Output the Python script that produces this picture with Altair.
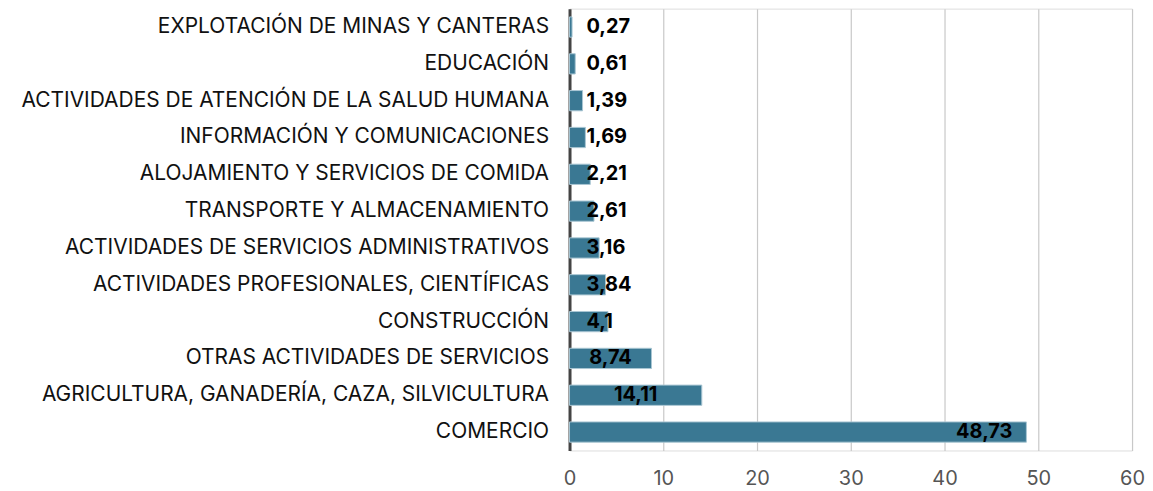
import altair as alt
import pandas as pd

sectores = [
    "EXPLOTACIÓN DE MINAS Y CANTERAS",
    "EDUCACIÓN",
    "ACTIVIDADES DE ATENCIÓN DE LA SALUD HUMANA",
    "INFORMACIÓN Y COMUNICACIONES",
    "ALOJAMIENTO Y SERVICIOS DE COMIDA",
    "TRANSPORTE Y ALMACENAMIENTO",
    "ACTIVIDADES DE SERVICIOS ADMINISTRATIVOS",
    "ACTIVIDADES PROFESIONALES, CIENTÍFICAS",
    "CONSTRUCCIÓN",
    "OTRAS ACTIVIDADES DE SERVICIOS",
    "AGRICULTURA, GANADERÍA, CAZA, SILVICULTURA",
    "COMERCIO",
]
valores = [0.27, 0.61, 1.39, 1.69, 2.21, 2.61, 3.16, 3.84, 4.1, 8.74, 14.11, 48.73]
etiquetas = ["0,27", "0,61", "1,39", "1,69", "2,21", "2,61", "3,16", "3,84", "4,1", "8,74", "14,11", "48,73"]

df = pd.DataFrame({"sector": sectores, "valor": valores, "etiqueta": etiquetas})

FONT = "Inter"
y_enc = alt.Y("sector:N", sort=sectores, title=None,
              scale=alt.Scale(paddingInner=0.45, paddingOuter=0.225),
              axis=alt.Axis(labelFontSize=21, labelColor="#111", labelFont=FONT,
                            labelPadding=21, ticks=False, domain=True,
                            domainColor="#444", domainWidth=3, labelLimit=700))
x_enc = alt.X("valor:Q", title=None,
              scale=alt.Scale(domain=[0, 60], nice=False),
              axis=alt.Axis(values=[0, 10, 20, 30, 40, 50, 60], labelFontSize=20,
                            labelColor="#555", labelFont=FONT, labelPadding=18,
                            labelFlush=False,
                            ticks=False, domain=False, grid=True,
                            gridColor="#c8c8c8", gridWidth=1.2))

base = alt.Chart(df)

bars = base.mark_bar(color="#3a7893", stroke="#a9c6d3", strokeWidth=1).encode(
    x=x_enc, y=y_enc)

txt_style = dict(fontSize=20, fontWeight="bold", font=FONT, color="#000", baseline="middle")

small = base.transform_filter("datum.valor < 5").mark_text(align="left", dx=17, **txt_style).encode(
    x=alt.datum(0), y=alt.Y("sector:N", sort=sectores), text="etiqueta:N")
mid = base.transform_filter("datum.valor >= 5 && datum.valor < 20").transform_calculate(
    half="datum.valor / 2").mark_text(align="center", **txt_style).encode(
    x="half:Q", y=alt.Y("sector:N", sort=sectores), text="etiqueta:N")
large = base.transform_filter("datum.valor >= 20").mark_text(align="right", dx=-14, **txt_style).encode(
    x="valor:Q", y=alt.Y("sector:N", sort=sectores), text="etiqueta:N")

chart = alt.layer(bars, small, mid, large).properties(
    width=564, height=443, padding={"left": 12, "top": 0, "right": 0, "bottom": 0}
).configure_view(stroke=None).configure(background="white")

chart.save("out.html", embed_options={"renderer": "svg", "actions": False})
